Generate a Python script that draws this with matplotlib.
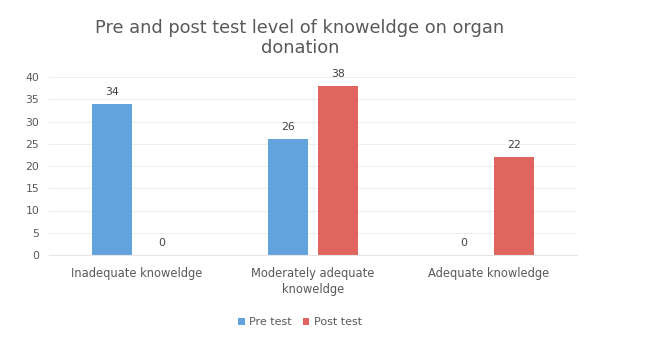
import numpy as np
import matplotlib
matplotlib.use("Agg")
import matplotlib.pyplot as plt

categories = ["Inadequate knoweldge", "Moderately adequate\nknoweldge", "Adequate knowledge"]
pre_test = [34, 26, 0]
post_test = [0, 38, 22]
yticks = [0, 5, 10, 15, 20, 25, 30, 35, 40]

blue = "#62A3DD"
red = "#E0655F"
txt = "#595959"

fig = plt.figure(figsize=(6.72, 3.46), dpi=100)
ax = fig.add_axes([49/672, 1-255/346, (577-49)/672, (255-77)/346])

x = np.arange(len(categories))
w = 0.227
off = 0.142
b1 = ax.bar(x - off, pre_test, w, color=blue, label="Pre test")
b2 = ax.bar(x + off, post_test, w, color=red, label="Post test")

for bars in (b1, b2):
    for b in bars:
        h = b.get_height()
        ax.annotate(f"{h:g}", (b.get_x() + b.get_width()/2, h),
                    xytext=(0, 5), textcoords="offset points",
                    ha="center", va="bottom", fontsize=7.8, color="#404040")

ax.set_xlim(-0.5, 2.5)
ax.set_ylim(0, 40)
ax.set_yticks(yticks)
ax.set_xticks(x)
ax.set_xticklabels(categories, fontsize=8.3, color=txt, linespacing=1.2)
ax.tick_params(axis="y", labelsize=7.8, labelcolor=txt, length=0, pad=7)
ax.tick_params(axis="x", length=0, pad=9)
ax.yaxis.grid(True, color="#EEEEEE", linewidth=0.8)
ax.set_axisbelow(True)
for s in ["top", "right", "left"]:
    ax.spines[s].set_visible(False)
ax.spines["bottom"].set_color("#E6E6E6")

fig.text(300/672, 1-38/346, "Pre and post test level of knoweldge on organ\ndonation",
         ha="center", va="center", fontsize=12.8, color=txt, linespacing=1.15)

fig.legend(handles=[b1, b2], loc="center", bbox_to_anchor=(300/672, 1-322/346),
           ncol=2, frameon=False, fontsize=8, labelcolor=txt,
           handlelength=0.6, handleheight=0.6, handletextpad=0.4, columnspacing=1.0)

fig.savefig("out.png", dpi=100)
